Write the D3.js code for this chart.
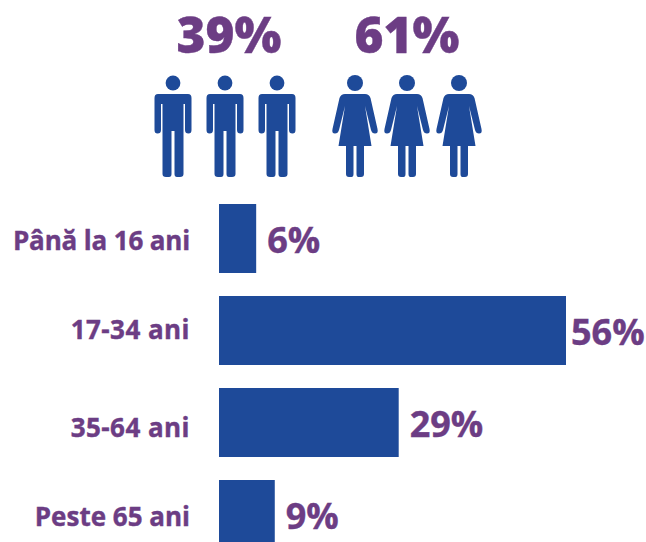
<!DOCTYPE html>
<html>
<head>
<meta charset="utf-8">
<script src="https://cdn.jsdelivr.net/npm/d3@7"></script>
<style>
html, body { margin: 0; padding: 0; background: #fff; }
text { font-family: "Open Sans", sans-serif; font-weight: 700; fill: #6c3d84; stroke: #6c3d84; stroke-width: 0.4px; }
</style>
</head>
<body>
<div class="chart"></div>
<script>
"use strict";
(function(){

var ageGroups = ['Până la 16 ani', '17-34 ani', '35-64 ani', 'Peste 65 ani'];
var agePercents = [6, 56, 29, 9];
var genderLabels = ['39%', '61%'];
var genderIcons = ['man', 'woman'];
var iconsPerGender = [0, 1, 2];

var width = 646;
var height = 542;
var blue = '#1e4a99';

var svg = d3.select('.chart')
            .append('svg')
            .attr('width', width)
            .attr('height', height)
            .style('display', 'block');

var xScale = d3.scaleLinear().domain([0, 56]).range([219, 566]);
var yScale = d3.scaleBand().domain(ageGroups).range([204, 549]).paddingInner(0.25).paddingOuter(0);

// the last bar runs past the bottom edge of the picture
svg.selectAll('.bar')
   .data(ageGroups)
   .enter().append('rect')
   .attr('class', 'bar')
   .attr('x', xScale(0))
   .attr('y', function(d){ return yScale(d) })
   .attr('width', function(d, i){ return xScale(agePercents[i]) - xScale(0) })
   .attr('height', yScale.bandwidth())
   .attr('fill', blue);

var labelDy = [46, 43, 49, 46];
var labelSpacing = [-0.15, 0.45, 0.45, 0];
svg.selectAll('.age')
   .data(ageGroups)
   .enter().append('text')
   .attr('class', 'age')
   .attr('x', 190)
   .attr('y', function(d, i){ return yScale(d) + labelDy[i] })
   .attr('text-anchor', 'end')
   .attr('font-size', 26)
   .style('letter-spacing', function(d, i){ return labelSpacing[i] + 'px' })
   .text(function(d){ return d });

var valueGap = [11, 5, 11, 11];
svg.selectAll('.value')
   .data(agePercents)
   .enter().append('text')
   .attr('class', 'value')
   .attr('x', function(d, i){ return xScale(d) + valueGap[i] })
   .attr('y', function(d, i){ return yScale(ageGroups[i]) + 49 })
   .attr('font-size', 36)
   .text(function(d){ return d + '%' });

// pictograms
var manBody = 'M-15,94 L15,94 Q18.5,94 18.5,98 L18.5,130 Q18.5,133.500 15.500,133.500 Q12,133.500 12,130 L12,104 L10.500,104 L10.500,174 Q10.500,177 7,177 L4,177 Q1.500,177 1.500,174 L1.500,131 L-1.500,131 L-1.500,174 Q-1.500,177 -4,177 L-7,177 Q-10.500,177 -10.500,174 L-10.500,104 L-12,104 L-12,130 Q-12,133.500 -15.500,133.500 Q-18.500,133.500 -18.500,130 L-18.500,98 Q-18.500,94 -15,94 Z';
var womanBody = 'M-10,94 L10,94 Q14,94 15.500,98 L22.500,129 Q23.500,133.500 20,133.500 Q17,133.500 16,130 L10,106 L16.500,146 L9,146 L9,174 Q9,177 6,177 L3.500,177 Q1.500,177 1.500,174 L1.500,146 L-1.500,146 L-1.500,174 Q-1.500,177 -3.500,177 L-6,177 Q-9,177 -9,174 L-9,146 L-16.500,146 L-10,106 L-16,130 Q-17,133.500 -20,133.500 Q-23.500,133.500 -22.500,129 L-15.500,98 Q-14,94 -10,94 Z';
var iconBodies = { man: manBody, woman: womanBody };
var headRadius = { man: 7.4, woman: 8 };

var groupX = d3.scaleOrdinal().domain(genderIcons).range([225, 407]);
var iconX = d3.scaleLinear().domain([0, 2]).range([-52, 52]);
var labelShift = [4, 0];

var groups = svg.selectAll('.gender')
                .data(genderIcons)
                .enter().append('g')
                .attr('class', 'gender')
                .attr('transform', function(d){ return 'translate(' + groupX(d) + ',0)' });

groups.append('text')
      .attr('x', function(d, i){ return labelShift[i] })
      .attr('y', 53)
      .attr('text-anchor', 'middle')
      .attr('font-size', 49.5)
      .style('font-weight', 800)
      .text(function(d, i){ return genderLabels[i] });

var icons = groups.selectAll('.icon')
                  .data(function(d){ return iconsPerGender.map(function(n){ return { kind: d, n: n } }) })
                  .enter().append('g')
                  .attr('class', 'icon')
                  .attr('transform', function(d){ return 'translate(' + iconX(d.n) + ',0)' });

icons.append('circle')
     .attr('cx', 0)
     .attr('cy', 83)
     .attr('r', function(d){ return headRadius[d.kind] })
     .attr('fill', blue);

icons.append('path')
     .attr('d', function(d){ return iconBodies[d.kind] })
     .attr('fill', blue);

})();
</script>
</body>
</html>
